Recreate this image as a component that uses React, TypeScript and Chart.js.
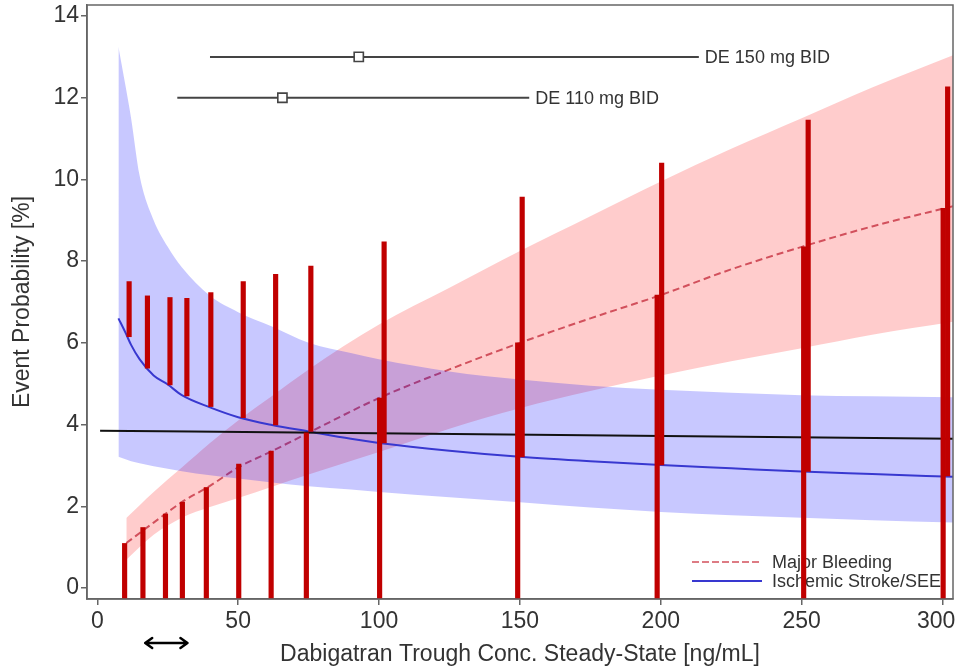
import React, { useEffect, useRef } from 'react';
import { Chart, registerables } from 'chart.js';

Chart.register(...registerables);

// ---- axes ----
const X_TICKS = [0, 50, 100, 150, 200, 250, 300];
const Y_TICKS = [0, 2, 4, 6, 8, 10, 12, 14];
const X_MIN = -3.65;
const X_MAX = 303.7;
const Y_MIN = -0.27;
const Y_MAX = 14.27;
const X_TITLE = 'Dabigatran Trough Conc. Steady-State [ng/mL]';
const Y_TITLE = 'Event Probability [%]';

// ---- observed-rate bars ----
const BAR_CONC = [10.5, 17, 25, 31, 39.5, 51, 62.5, 75, 101, 150, 199.5, 251.5, 301];
const BAR_BLEED = [1.09, 1.48, 1.81, 2.1, 2.46, 3.03, 3.35, 3.8, 4.65, 6.0, 7.17, 8.35, 9.29];
const BAR_STROKE_FROM = [6.15, 5.38, 4.97, 4.7, 4.44, 4.17, 3.99, 3.83, 3.55, 3.21, 3.01, 2.85, 2.74];
const BAR_STROKE_TO = [7.5, 7.15, 7.11, 7.09, 7.23, 7.5, 7.68, 7.88, 8.47, 9.57, 10.4, 11.45, 12.27];

// ---- major bleeding model ----
const RED_X = [10.3, 20, 30, 40, 50, 62, 75, 100, 125, 150, 175, 200, 225, 250, 275, 304];
const BLEED_MEAN = [1.1, 1.6, 2.1, 2.5, 2.95, 3.35, 3.8, 4.65, 5.35, 6.0, 6.6, 7.17, 7.8, 8.35, 8.85, 9.35];
const BLEED_UPPER = [1.71, 2.35, 2.95, 3.55, 4.1, 4.7, 5.35, 6.45, 7.35, 8.25, 9.1, 9.95, 10.75, 11.5, 12.25, 13.05];
const BLEED_LOWER = [0.69, 1.3, 1.72, 1.98, 2.2, 2.48, 2.78, 3.33, 3.9, 4.4, 4.82, 5.2, 5.55, 5.87, 6.2, 6.52];

// ---- ischemic stroke model ----
const BLUE_X = [7.5, 10, 12, 15, 20, 25, 30, 40, 50, 62, 75, 90, 100, 125, 150, 175, 200, 225, 250, 275, 304];
const STROKE_MEAN = [6.6, 6.25, 5.95, 5.6, 5.2, 4.98, 4.72, 4.42, 4.18, 3.99, 3.83, 3.65, 3.55, 3.36, 3.21, 3.1, 3.01, 2.93, 2.85, 2.79, 2.72];
const STROKE_UPPER = [13.25, 12.3, 11.5, 10.1, 9.0, 8.35, 7.85, 7.15, 6.75, 6.4, 6.0, 5.75, 5.6, 5.3, 5.1, 4.95, 4.85, 4.78, 4.72, 4.69, 4.67];
const STROKE_LOWER = [3.21, 3.15, 3.1, 3.05, 2.98, 2.92, 2.86, 2.76, 2.68, 2.58, 2.49, 2.41, 2.35, 2.22, 2.1, 1.97, 1.86, 1.78, 1.72, 1.66, 1.6];

// ---- reference (black) line ----
const REF_X = [1, 304];
const REF_Y = [3.85, 3.65];

// ---- dose concentration ranges ----
const DOSE_LABELS = ['DE 150 mg BID', 'DE 110 mg BID'];
const DOSE_Y = [13, 12];
const DOSE_LO = [40.0, 28.4];
const DOSE_MED = [92.8, 65.7];
const DOSE_HI = [213.5, 153.3];

// ---- legend & arrow ----
const LEGEND_LABELS = ['Major Bleeding', 'Ischemic Stroke/SEE'];
const ARROW_RANGE = [17, 32];

const FONT = "'Liberation Sans', Arial, Helvetica, sans-serif";
const RED_LINE = '#d2505c';
const BLUE_LINE = '#3838d0';
const BAR_RED = '#c00000';
const AXIS_GREY = '#666';
const TEXT = '#333';

const pts = (xs: number[], ys: number[]) => xs.map((x, i) => ({ x, y: ys[i] }));

const zeroPad = (s: any) => {
  s.paddingTop = 0;
  s.paddingBottom = 0;
  s.paddingLeft = 0;
  s.paddingRight = 0;
};

const overlayPlugin = {
  id: 'overlay',
  beforeDatasetsDraw(chart: any) {
    const { ctx, chartArea } = chart;
    const x0 = chartArea.right - 261;
    const x1 = chartArea.right - 191;
    const tx = chartArea.right - 181;
    const rows = [chartArea.bottom - 37, chartArea.bottom - 18];
    ctx.save();
    ctx.font = `18px ${FONT}`;
    ctx.fillStyle = TEXT;
    ctx.textBaseline = 'middle';
    ctx.textAlign = 'left';
    LEGEND_LABELS.forEach((lab, i) => {
      ctx.beginPath();
      ctx.strokeStyle = i === 0 ? RED_LINE : BLUE_LINE;
      ctx.lineWidth = i === 0 ? 1.6 : 1.8;
      ctx.setLineDash(i === 0 ? [7, 3] : []);
      ctx.moveTo(x0, rows[i]);
      ctx.lineTo(x1, rows[i]);
      ctx.stroke();
      ctx.setLineDash([]);
      ctx.fillText(lab, tx, rows[i] + 1);
    });
    ctx.restore();
  },
  afterDatasetsDraw(chart: any) {
    const { ctx } = chart;
    ctx.save();
    ctx.font = `18px ${FONT}`;
    ctx.fillStyle = TEXT;
    ctx.textBaseline = 'middle';
    ctx.textAlign = 'left';
    chart.data.datasets.forEach((ds: any, i: number) => {
      if (!ds.rangeLabel) return;
      const meta = chart.getDatasetMeta(i);
      const last = meta.data[meta.data.length - 1];
      ctx.fillText(ds.label, last.x + 6, last.y + 1);
    });
    ctx.restore();
  },
  afterDraw(chart: any) {
    const { ctx, chartArea, scales } = chart;
    ctx.save();
    ctx.strokeStyle = AXIS_GREY;
    ctx.lineWidth = 1.5;
    ctx.strokeRect(chartArea.left, chartArea.top, chartArea.right - chartArea.left, chartArea.bottom - chartArea.top);
    // double-headed arrow under the axis
    const ax0 = scales.x.getPixelForValue(ARROW_RANGE[0]);
    const ax1 = scales.x.getPixelForValue(ARROW_RANGE[1]);
    const ay = chartArea.bottom + 44;
    ctx.strokeStyle = '#000';
    ctx.lineWidth = 2.5;
    ctx.lineCap = 'round';
    ctx.lineJoin = 'round';
    ctx.beginPath();
    ctx.moveTo(ax0, ay);
    ctx.lineTo(ax1, ay);
    ctx.moveTo(ax0 + 7, ay - 5);
    ctx.lineTo(ax0, ay);
    ctx.lineTo(ax0 + 7, ay + 5);
    ctx.moveTo(ax1 - 7, ay - 5);
    ctx.lineTo(ax1, ay);
    ctx.lineTo(ax1 - 7, ay + 5);
    ctx.stroke();
    ctx.restore();
  },
};

export default function App() {
  const ref = useRef<HTMLCanvasElement>(null);

  useEffect(() => {
    const canvas = ref.current;
    if (!canvas) return;

    const lineBase = { type: 'line', pointRadius: 0, fill: false, cubicInterpolationMode: 'monotone' };

    const doseSets = DOSE_LABELS.map((label, i) => ({
      type: 'line',
      label,
      rangeLabel: true,
      data: pts([DOSE_LO[i], DOSE_MED[i], DOSE_HI[i]], [DOSE_Y[i], DOSE_Y[i], DOSE_Y[i]]),
      borderColor: '#444',
      borderWidth: 2,
      pointStyle: 'rect',
      pointRadius: [0, 6.5, 0],
      pointBackgroundColor: '#fff',
      pointBorderColor: '#444',
      pointBorderWidth: 1.6,
      fill: false,
      order: 13,
    }));

    const lastX = X_TICKS[X_TICKS.length - 1];

    const chart = new Chart(canvas, {
      type: 'bar',
      data: {
        datasets: [
          { ...lineBase, label: 'bleed lower', data: pts(RED_X, BLEED_LOWER), borderWidth: 0, borderColor: 'rgba(0,0,0,0)', order: 20 },
          { ...lineBase, label: 'bleed upper', data: pts(RED_X, BLEED_UPPER), borderWidth: 0, borderColor: 'rgba(0,0,0,0)', fill: '-1', backgroundColor: 'rgba(255,0,0,0.2)', order: 19 },
          { ...lineBase, label: 'Major Bleeding', data: pts(RED_X, BLEED_MEAN), borderColor: RED_LINE, borderWidth: 2, borderDash: [7, 4], order: 18 },
          { ...lineBase, label: 'stroke lower', data: pts(BLUE_X, STROKE_LOWER), borderWidth: 0, borderColor: 'rgba(0,0,0,0)', order: 17 },
          { ...lineBase, label: 'stroke upper', data: pts(BLUE_X, STROKE_UPPER), borderWidth: 0, borderColor: 'rgba(0,0,0,0)', fill: '-1', backgroundColor: 'rgba(0,0,255,0.216)', order: 16 },
          { ...lineBase, label: 'Ischemic Stroke/SEE', data: pts(BLUE_X, STROKE_MEAN), borderColor: BLUE_LINE, borderWidth: 2, order: 15 },
          { ...lineBase, label: 'reference', data: pts(REF_X, REF_Y), borderColor: '#111', borderWidth: 2, order: 14 },
          ...doseSets,
          {
            type: 'bar',
            label: 'observed bleeding',
            data: BAR_CONC.map((x, i) => ({ x, y: [Y_MIN, BAR_BLEED[i]] })),
            backgroundColor: BAR_RED,
            borderWidth: 0,
            barThickness: 4.5,
            order: 0,
          },
          {
            type: 'bar',
            label: 'observed stroke',
            data: BAR_CONC.map((x, i) => ({ x, y: [BAR_STROKE_FROM[i], BAR_STROKE_TO[i]] })),
            backgroundColor: BAR_RED,
            borderWidth: 0,
            barThickness: 4.5,
            order: 0,
          },
        ] as any,
      },
      options: {
        responsive: false,
        animation: false,
        devicePixelRatio: 1,
        events: [],
        layout: { autoPadding: false, padding: { top: 5, right: 6, left: 0, bottom: 0 } },
        plugins: { legend: { display: false }, tooltip: { enabled: false } },
        scales: {
          x: {
            type: 'linear',
            min: X_MIN,
            max: X_MAX,
            offset: false,
            afterBuildTicks: (s: any) => { s.ticks = X_TICKS.map((v) => ({ value: v })); },
            afterFit: (s: any) => { s.height = 69; zeroPad(s); },
            grid: { display: true, drawOnChartArea: false, drawTicks: true, tickLength: 6, color: AXIS_GREY, lineWidth: 1.5, offset: false },
            border: { display: true, color: AXIS_GREY, width: 1.5 },
            ticks: {
              color: TEXT,
              font: { family: FONT, size: 23 },
              padding: 3,
              maxRotation: 0,
              autoSkip: false,
              // keep the last label inside the canvas, as in the original
              callback: (v: any) => (v === lastX ? `${v}\u00a0\u00a0` : `${v}`),
            },
            title: { display: true, text: X_TITLE, color: TEXT, font: { family: FONT, size: 23 }, padding: { top: 0, bottom: 0 } },
          },
          y: {
            type: 'linear',
            min: Y_MIN,
            max: Y_MAX,
            afterBuildTicks: (s: any) => { s.ticks = Y_TICKS.map((v) => ({ value: v })); },
            afterFit: (s: any) => { s.width = 87; zeroPad(s); },
            grid: { display: true, drawOnChartArea: false, drawTicks: true, tickLength: 6, color: AXIS_GREY, lineWidth: 1.5 },
            border: { display: true, color: AXIS_GREY, width: 1.5 },
            ticks: { color: TEXT, font: { family: FONT, size: 23 }, padding: 2 },
            title: { display: true, text: Y_TITLE, color: TEXT, font: { family: FONT, size: 23 }, padding: { top: 8.5, bottom: 0 } },
          },
        },
      } as any,
      plugins: [overlayPlugin],
    });

    return () => chart.destroy();
  }, []);

  return (
    <div style={{ position: 'absolute', left: 0, top: 0, width: 959, height: 668, background: '#fff' }}>
      <canvas ref={ref} width={959} height={668} style={{ display: 'block' }} />
    </div>
  );
}
